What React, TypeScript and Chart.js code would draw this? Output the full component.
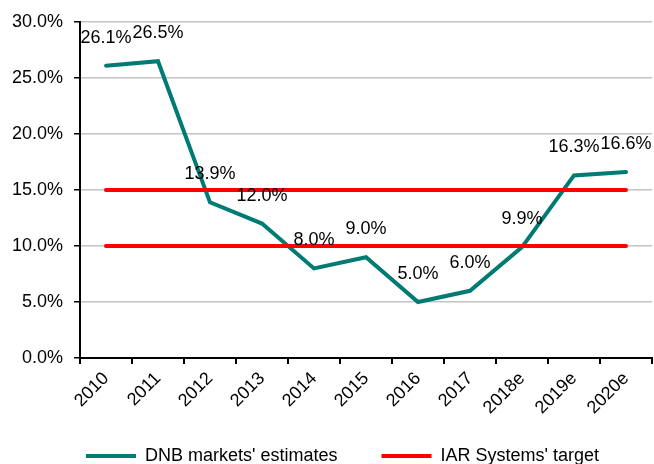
import React, { useEffect, useRef } from "react";
import { Chart, registerables } from "chart.js";

Chart.register(...registerables);

const categories = ["2010", "2011", "2012", "2013", "2014", "2015", "2016", "2017", "2018e", "2019e", "2020e"];
const dnbEstimates = [26.1, 26.5, 13.9, 12.0, 8.0, 9.0, 5.0, 6.0, 9.9, 16.3, 16.6];
const targetHigh = [15, 15, 15, 15, 15, 15, 15, 15, 15, 15, 15];
const targetLow = [10, 10, 10, 10, 10, 10, 10, 10, 10, 10, 10];
const seriesNames = ["DNB markets' estimates", "IAR Systems' target"];

const FONT = 'Arial, "Liberation Sans", sans-serif';
const TEAL = "#007b74";
const RED = "#ff0000";
const H = 510;

const labelPlugin = {
  id: "pointLabels",
  afterLayout(chart: any) {
    if (chart.legend) {
      chart.legend.left = 33;
      chart.legend.right = 652;
      chart.legend.top = 403;
    }
  },
  afterDatasetsDraw(chart: any) {
    const meta = chart.getDatasetMeta(0);
    const ctx = chart.ctx;
    ctx.save();
    ctx.font = `18px ${FONT}`;
    ctx.fillStyle = "#000";
    ctx.textAlign = "center";
    ctx.textBaseline = "middle";
    meta.data.forEach((pt: any, i: number) => {
      ctx.fillText(dnbEstimates[i].toFixed(1) + "%", pt.x, pt.y - 28);
    });
    ctx.restore();
  },
};

export default function App() {
  const ref = useRef<HTMLCanvasElement>(null);
  useEffect(() => {
    if (!ref.current) return;
    const chart = new Chart(ref.current, {
      type: "line",
      data: {
        labels: categories,
        datasets: [
          {
            label: seriesNames[0],
            data: dnbEstimates,
            borderColor: TEAL,
            backgroundColor: TEAL,
            borderWidth: 4,
            borderCapStyle: "round",
            pointRadius: 0,
            tension: 0,
            order: 1,
          },
          {
            label: seriesNames[1],
            data: targetHigh,
            borderColor: RED,
            backgroundColor: RED,
            borderWidth: 4,
            borderCapStyle: "round",
            pointRadius: 0,
            order: 0,
          },
          {
            label: seriesNames[1] + " low",
            data: targetLow,
            borderColor: RED,
            backgroundColor: RED,
            borderWidth: 4,
            borderCapStyle: "round",
            pointRadius: 0,
            order: 0,
          },
        ],
      },
      options: {
        responsive: false,
        animation: false,
        layout: { padding: { top: 22, right: 2, left: 0, bottom: 0 } },
        plugins: {
          tooltip: { enabled: false },
          legend: {
            position: "bottom",
            labels: {
              usePointStyle: true,
              pointStyle: "line",
              pointStyleWidth: 50,
              padding: 44,
              color: "#000",
              font: { family: FONT, size: 18 },
              filter: (item: any) => item.datasetIndex !== 2,
              sort: (a: any, b: any) => a.datasetIndex - b.datasetIndex,
            },
          },
        },
        scales: {
          x: {
            offset: true,
            grid: {
              offset: true,
              drawOnChartArea: false,
              drawTicks: true,
              tickLength: 6,
              color: "#000",
              tickColor: "#000",
              lineWidth: 2,
            },
            border: { display: true, color: "#000", width: 2 },
            ticks: {
              autoSkip: false,
              minRotation: 45,
              maxRotation: 45,
              color: "#000",
              padding: 4,
              font: { family: FONT, size: 18 },
            },
            afterFit: (s: any) => {
              s.height = H - 72 - 358;
            },
          },
          y: {
            min: 0,
            max: 30,
            grid: {
              color: "#c4c4c4",
              lineWidth: 1.5,
              tickColor: "#000",
              tickLength: 6,
              drawTicks: true,
            },
            border: { display: true, color: "#000", width: 2 },
            ticks: {
              stepSize: 5,
              color: "#000",
              padding: 11,
              font: { family: FONT, size: 18 },
              callback: (v: any) => Number(v).toFixed(1) + "%",
            },
            afterFit: (s: any) => {
              s.width = 80;
            },
          },
        },
      },
      plugins: [labelPlugin],
    });
    return () => chart.destroy();
  }, []);
  return (
    <div style={{ position: "fixed", left: 0, top: 0, width: 654, height: H, background: "#fff" }}>
      <canvas ref={ref} width={654} height={H} style={{ display: "block" }} />
    </div>
  );
}
